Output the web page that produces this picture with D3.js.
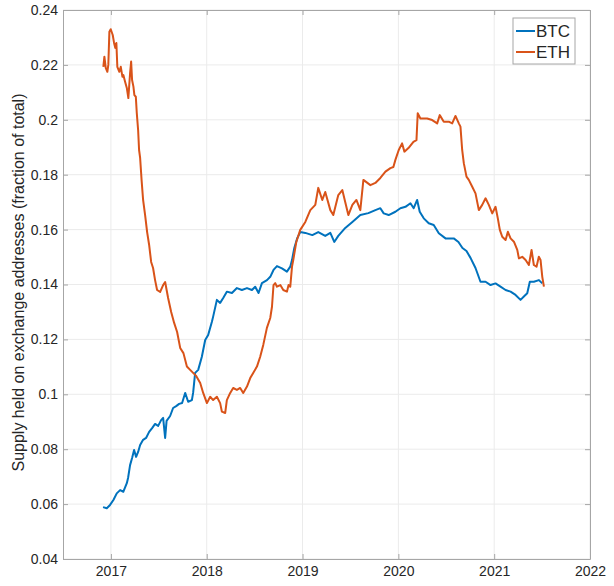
<!DOCTYPE html>
<html>
<head>
<meta charset="utf-8">
<script src="https://cdn.jsdelivr.net/npm/d3@7"></script>
<style>
  body { margin: 0; background: #fff; }
  text { font-family: "Liberation Sans", Arial, sans-serif; fill: #262626; }
</style>
</head>
<body>
<script>
// decimal years and fraction of total supply
var btcYears = [2016.918,2016.957,2016.991,2017.026,2017.061,2017.096,2017.130,2017.166,2017.179,2017.200,
  2017.221,2017.242,2017.263,2017.284,2017.305,2017.336,2017.367,2017.399,2017.430,2017.461,
  2017.493,2017.524,2017.545,2017.566,2017.581,2017.618,2017.649,2017.681,2017.712,2017.743,
  2017.775,2017.806,2017.845,2017.858,2017.879,2017.911,2017.949,2017.984,2018.015,2018.054,
  2018.067,2018.106,2018.140,2018.172,2018.210,2018.263,2018.315,2018.367,2018.420,2018.472,
  2018.506,2018.541,2018.576,2018.629,2018.663,2018.697,2018.733,2018.785,2018.837,2018.872,
  2018.890,2018.914,2018.945,2018.976,2019.029,2019.102,2019.164,2019.237,2019.290,2019.331,
  2019.373,2019.446,2019.520,2019.603,2019.687,2019.760,2019.812,2019.847,2019.899,2019.969,
  2020.021,2020.074,2020.126,2020.160,2020.196,2020.223,2020.265,2020.317,2020.369,2020.422,
  2020.492,2020.578,2020.627,2020.669,2020.711,2020.753,2020.805,2020.857,2020.910,2020.962,
  2021.014,2021.066,2021.119,2021.171,2021.223,2021.275,2021.310,2021.345,2021.372,2021.414,
  2021.467,2021.502];
var btcValues = [0.0589,0.0585,0.0597,0.0615,0.0639,0.0651,0.0645,0.0676,0.0695,0.0742,
  0.0768,0.0797,0.0772,0.0790,0.0815,0.0834,0.0841,0.0863,0.0877,0.0892,
  0.0885,0.0906,0.0914,0.0841,0.0903,0.0921,0.0950,0.0957,0.0965,0.0968,
  0.1005,0.0973,0.0979,0.1005,0.1078,0.1089,0.1137,0.1198,0.1216,0.1264,
  0.1283,0.1344,0.1333,0.1351,0.1374,0.1369,0.1387,0.1380,0.1387,0.1380,
  0.1392,0.1369,0.1405,0.1416,0.1428,0.1453,0.1467,0.1459,0.1447,0.1465,
  0.1489,0.1533,0.1569,0.1591,0.1588,0.1580,0.1591,0.1577,0.1588,0.1555,
  0.1577,0.1606,0.1628,0.1653,0.1660,0.1671,0.1678,0.1659,0.1653,0.1665,
  0.1678,0.1683,0.1696,0.1678,0.1708,0.1665,0.1641,0.1623,0.1617,0.1587,
  0.1568,0.1568,0.1555,0.1533,0.1522,0.1497,0.1460,0.1410,0.1410,0.1398,
  0.1404,0.1392,0.1380,0.1374,0.1362,0.1344,0.1356,0.1368,0.1410,0.1410,
  0.1416,0.1404];

var ethYears = [2016.921,2016.932,2016.946,2016.963,2016.973,2016.984,2016.998,2017.019,2017.033,2017.046,
  2017.057,2017.067,2017.088,2017.103,2017.120,2017.130,2017.148,2017.166,2017.182,2017.200,
  2017.211,2017.221,2017.235,2017.245,2017.260,2017.270,2017.284,2017.294,2017.305,2017.320,
  2017.336,2017.357,2017.378,2017.399,2017.420,2017.440,2017.461,2017.482,2017.514,2017.545,
  2017.566,2017.597,2017.629,2017.660,2017.691,2017.723,2017.757,2017.793,2017.827,2017.858,
  2017.890,2017.932,2017.963,2018.002,2018.036,2018.067,2018.106,2018.140,2018.158,2018.193,
  2018.210,2018.245,2018.276,2018.315,2018.349,2018.381,2018.420,2018.454,2018.485,2018.524,
  2018.558,2018.590,2018.628,2018.663,2018.681,2018.697,2018.715,2018.733,2018.768,2018.799,
  2018.837,2018.854,2018.872,2018.890,2018.903,2018.935,2018.976,2019.029,2019.081,2019.133,
  2019.164,2019.206,2019.237,2019.290,2019.321,2019.373,2019.415,2019.478,2019.520,2019.562,
  2019.603,2019.635,2019.708,2019.760,2019.812,2019.865,2019.917,2019.948,2019.969,2020.004,
  2020.039,2020.063,2020.105,2020.157,2020.189,2020.202,2020.230,2020.300,2020.353,2020.405,
  2020.432,2020.474,2020.526,2020.562,2020.596,2020.631,2020.648,2020.666,2020.683,2020.711,
  2020.735,2020.771,2020.805,2020.840,2020.875,2020.910,2020.944,2020.980,2021.014,2021.038,
  2021.059,2021.084,2021.119,2021.143,2021.171,2021.206,2021.241,2021.258,2021.293,2021.328,
  2021.362,2021.390,2021.414,2021.442,2021.466,2021.484,2021.502,2021.519];
var ethValues = [0.2193,0.2230,0.2189,0.2175,0.2200,0.2321,0.2330,0.2309,0.2280,0.2262,
  0.2280,0.2193,0.2175,0.2193,0.2157,0.2163,0.2139,0.2116,0.2079,0.2169,
  0.2212,0.2145,0.2121,0.2090,0.2084,0.2025,0.1963,0.1890,0.1861,0.1781,
  0.1708,0.1653,0.1591,0.1544,0.1482,0.1460,0.1416,0.1380,0.1373,0.1398,
  0.1409,0.1351,0.1300,0.1260,0.1227,0.1169,0.1150,0.1101,0.1089,0.1078,
  0.1067,0.1041,0.1005,0.0968,0.0991,0.0979,0.0991,0.0968,0.0937,0.0932,
  0.0979,0.1005,0.1023,0.1016,0.1023,0.1005,0.1028,0.1059,0.1078,0.1101,
  0.1137,0.1180,0.1242,0.1278,0.1319,0.1398,0.1405,0.1392,0.1398,0.1380,
  0.1374,0.1398,0.1392,0.1465,0.1489,0.1555,0.1599,0.1628,0.1671,0.1690,
  0.1752,0.1708,0.1737,0.1671,0.1653,0.1726,0.1744,0.1653,0.1690,0.1708,
  0.1671,0.1781,0.1762,0.1770,0.1788,0.1811,0.1824,0.1828,0.1854,0.1890,
  0.1914,0.1884,0.1897,0.1920,0.1926,0.2024,0.2005,0.2005,0.1999,0.1987,
  0.2017,0.1993,0.1993,0.1987,0.2014,0.1987,0.1975,0.1890,0.1842,0.1793,
  0.1781,0.1756,0.1732,0.1671,0.1690,0.1714,0.1690,0.1659,0.1683,0.1641,
  0.1599,0.1574,0.1562,0.1592,0.1568,0.1556,0.1526,0.1495,0.1501,0.1489,
  0.1471,0.1526,0.1471,0.1465,0.1501,0.1489,0.1428,0.1392];

var xTicks = [2017, 2018, 2019, 2020, 2021, 2022];
var yTicks = [0.04, 0.06, 0.08, 0.1, 0.12, 0.14, 0.16, 0.18, 0.2, 0.22, 0.24];
var seriesNames = ["BTC", "ETH"];
var seriesColors = ["#0072BD", "#D95319"];

var width = 614, height = 586;
var margin = {top: 10, right: 24, bottom: 27, left: 63};
var w = width - margin.left - margin.right,
    h = height - margin.top - margin.bottom;

var svg = d3.select("body").append("svg")
    .attr("width", width)
    .attr("height", height);

var g = svg.append("g")
    .attr("transform", "translate(" + margin.left + "," + margin.top + ")");

var x = d3.scaleLinear().domain([2016.5, 2022]).range([0, w]);
var y = d3.scaleLinear().domain([0.04, 0.24]).range([h, 0]);

// grid
g.append("g").selectAll("line.gx")
    .data(xTicks)
  .enter().append("line")
    .attr("x1", function(d) { return x(d); })
    .attr("x2", function(d) { return x(d); })
    .attr("y1", 0).attr("y2", h)
    .attr("stroke", "#ebebeb");

g.append("g").selectAll("line.gy")
    .data(yTicks)
  .enter().append("line")
    .attr("y1", function(d) { return y(d); })
    .attr("y2", function(d) { return y(d); })
    .attr("x1", 0).attr("x2", w)
    .attr("stroke", "#ebebeb");

// series
var line = d3.line()
    .x(function(d) { return x(d[0]); })
    .y(function(d) { return y(d[1]); });

var series = [d3.zip(btcYears, btcValues), d3.zip(ethYears, ethValues)];

g.selectAll("path.series")
    .data(series)
  .enter().append("path")
    .attr("class", "series")
    .attr("fill", "none")
    .attr("stroke", function(d, i) { return seriesColors[i]; })
    .attr("stroke-width", 2)
    .attr("stroke-linejoin", "round")
    .attr("d", line);

// axes, box with inward ticks on every side
var fmt = function(d) { return d3.format("")(+d.toFixed(2)); };

var xAxis = g.append("g")
    .attr("transform", "translate(0," + h + ")")
    .call(d3.axisBottom(x).tickValues(xTicks).tickFormat(d3.format("d")).tickSizeInner(-5).tickSizeOuter(0).tickPadding(7));
var yAxis = g.append("g")
    .call(d3.axisLeft(y).tickValues(yTicks).tickFormat(fmt).tickSizeInner(-5).tickSizeOuter(0).tickPadding(5));
var xTop = g.append("g")
    .call(d3.axisTop(x).tickValues(xTicks).tickFormat("").tickSizeInner(-5).tickSizeOuter(0));
var yRight = g.append("g")
    .attr("transform", "translate(" + w + ",0)")
    .call(d3.axisRight(y).tickValues(yTicks).tickFormat("").tickSizeInner(-5).tickSizeOuter(0));

[xAxis, yAxis, xTop, yRight].forEach(function(a) {
  a.selectAll("path.domain").attr("stroke", "#a6a6a6");
  a.selectAll(".tick line").attr("stroke", "#a6a6a6");
  a.selectAll("text")
    .attr("font-size", "14px")
    .attr("font-family", "Liberation Sans, Arial, sans-serif")
    .attr("fill", "#262626");
});

// y label
svg.append("text")
    .attr("transform", "translate(24," + (margin.top + h / 2 - 2) + ") rotate(-90)")
    .attr("text-anchor", "middle")
    .attr("font-size", "16px")
    .text("Supply held on exchange addresses (fraction of total)");

// legend
var legend = svg.append("g")
    .attr("transform", "translate(513,18)");

legend.append("rect")
    .attr("width", 62).attr("height", 46)
    .attr("fill", "#fff")
    .attr("stroke", "#a6a6a6");

var item = legend.selectAll("g.item")
    .data(seriesNames)
  .enter().append("g")
    .attr("transform", function(d, i) { return "translate(0," + (13 + i * 21) + ")"; });

item.append("line")
    .attr("x1", 3).attr("x2", 22)
    .attr("stroke", function(d, i) { return seriesColors[i]; })
    .attr("stroke-width", 2);

item.append("text")
    .attr("x", 23)
    .attr("dy", "0.36em")
    .attr("font-size", "17px")
    .text(function(d) { return d; });
</script>
</body>
</html>
